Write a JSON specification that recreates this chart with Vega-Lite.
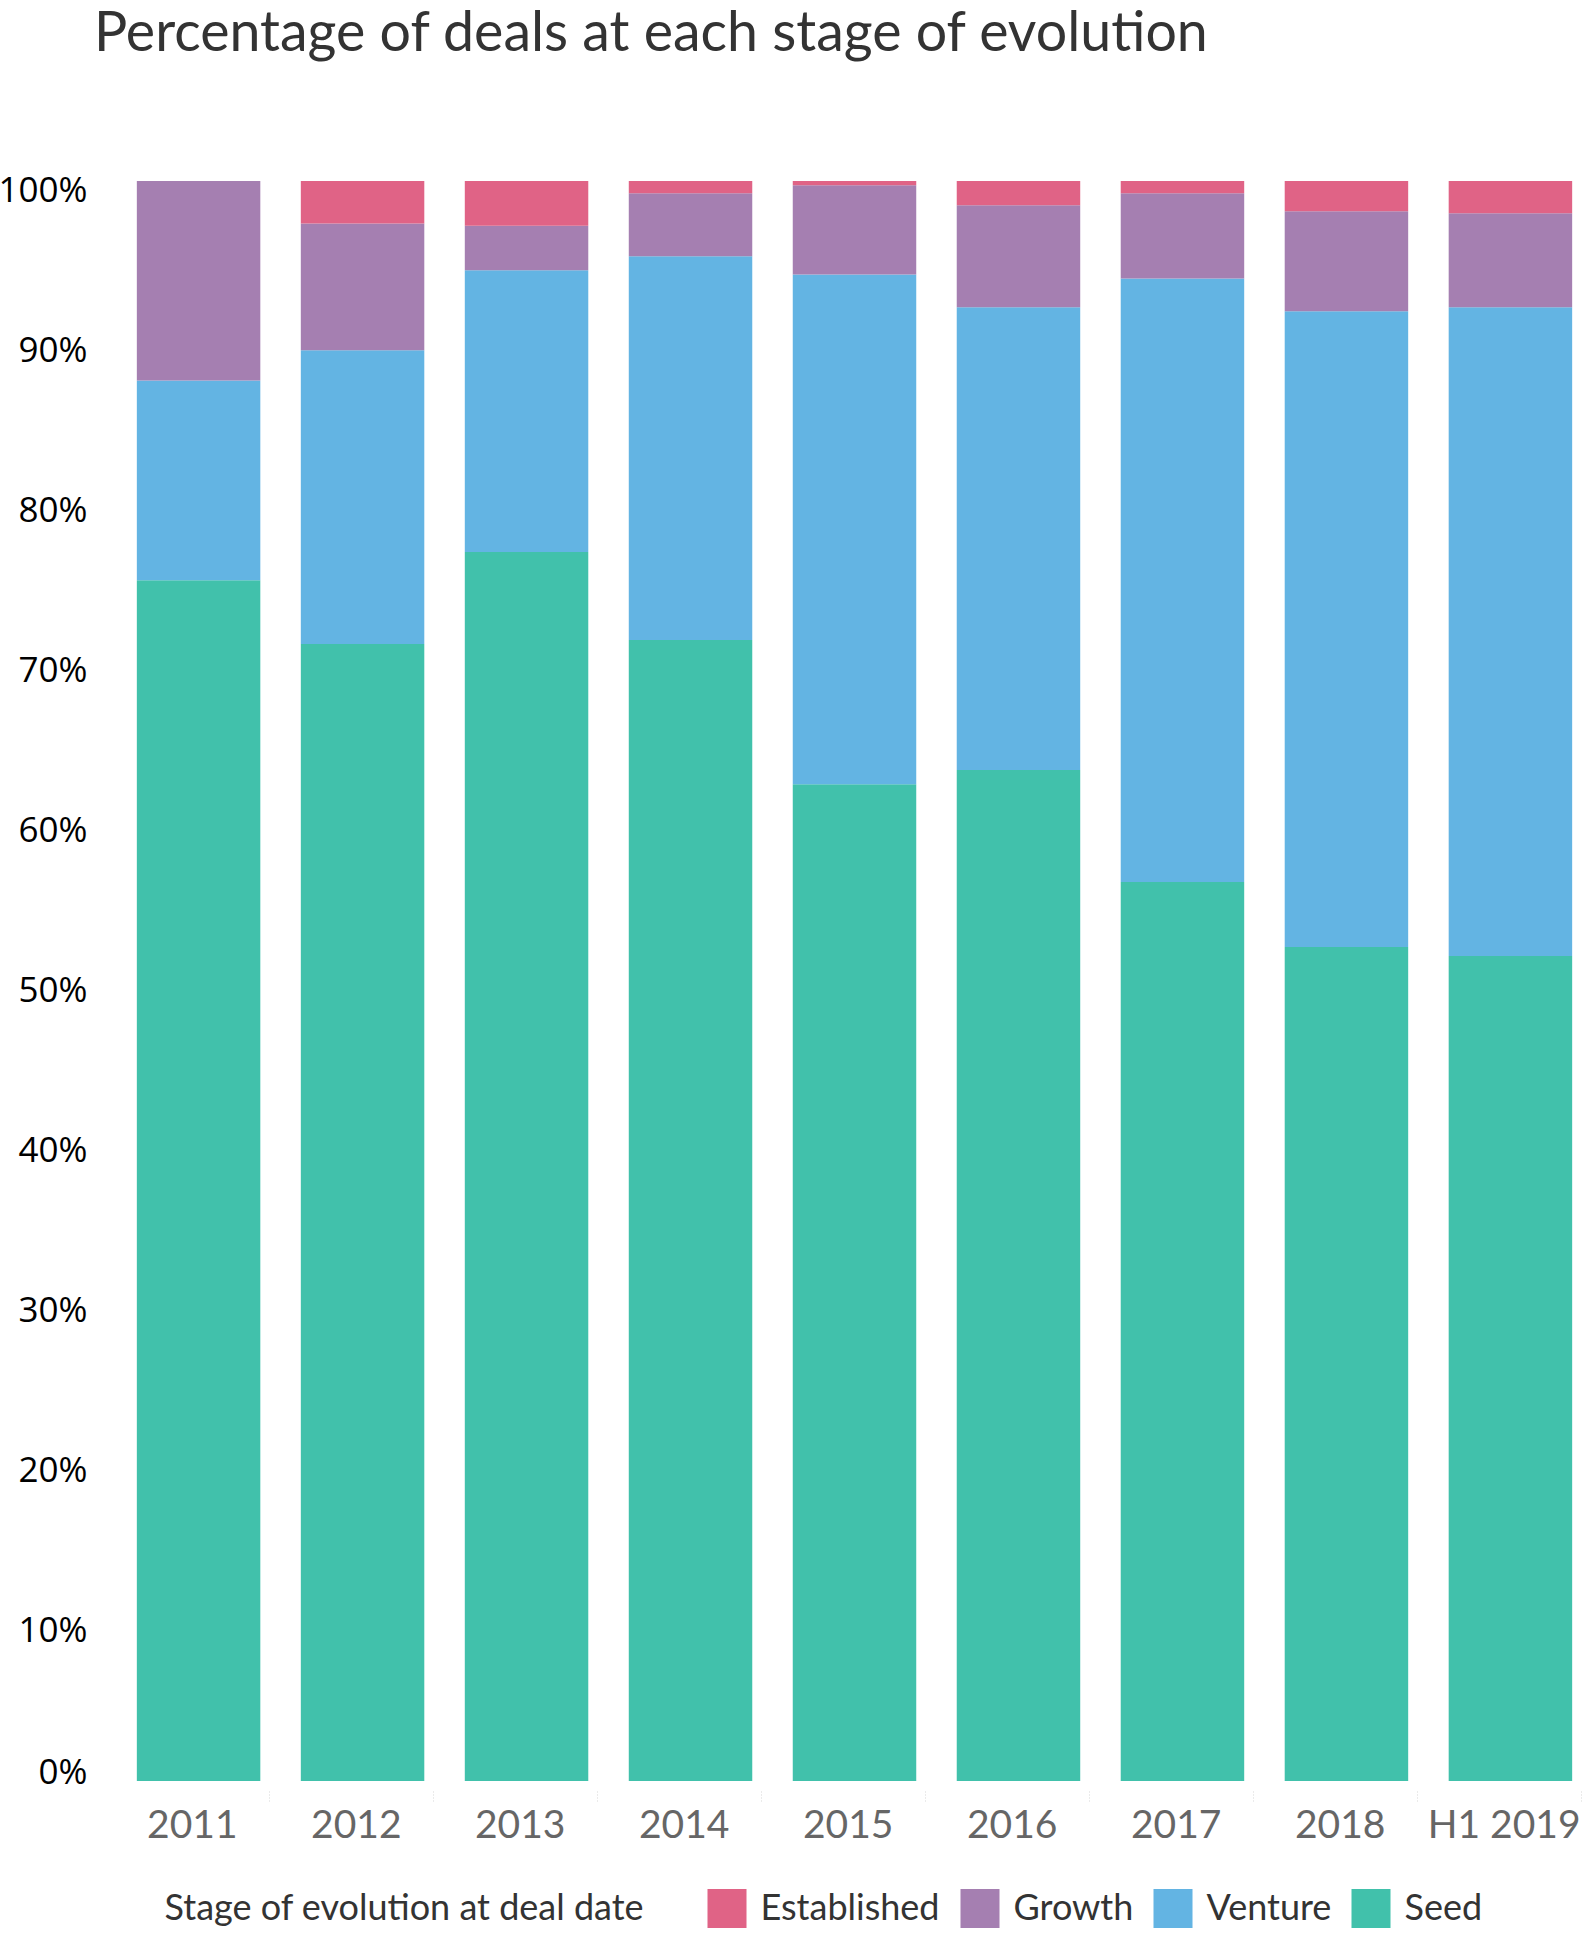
{
  "$schema": "https://vega.github.io/schema/vega-lite/v6.json",
  "description": "Percentage of deals at each stage of evolution",
  "autosize": {"type": "none"},
  "padding": {"left": 127, "top": 181, "right": 2, "bottom": 156},
  "width": 1455,
  "height": 1600,
  "background": "white",
  "title": {
    "text": "Percentage of deals at each stage of evolution",
    "anchor": "start",
    "frame": "group",
    "dx": -33,
    "offset": 67,
    "baseline": "alphabetic",
    "font": "Lato",
    "fontWeight": "normal",
    "fontSize": 55.5,
    "color": "#333333",
    "limit": 1500
  },
  "data": {
    "values": [
      {"year": "2011", "stage": "Seed", "rank": 1, "pct": 75.05},
      {"year": "2011", "stage": "Venture", "rank": 2, "pct": 12.48},
      {"year": "2011", "stage": "Growth", "rank": 3, "pct": 12.47},
      {"year": "2011", "stage": "Established", "rank": 4, "pct": 0},
      {"year": "2012", "stage": "Seed", "rank": 1, "pct": 71.07},
      {"year": "2012", "stage": "Venture", "rank": 2, "pct": 18.35},
      {"year": "2012", "stage": "Growth", "rank": 3, "pct": 7.92},
      {"year": "2012", "stage": "Established", "rank": 4, "pct": 2.66},
      {"year": "2013", "stage": "Seed", "rank": 1, "pct": 76.82},
      {"year": "2013", "stage": "Venture", "rank": 2, "pct": 17.6},
      {"year": "2013", "stage": "Growth", "rank": 3, "pct": 2.79},
      {"year": "2013", "stage": "Established", "rank": 4, "pct": 2.79},
      {"year": "2014", "stage": "Seed", "rank": 1, "pct": 71.32},
      {"year": "2014", "stage": "Venture", "rank": 2, "pct": 23.97},
      {"year": "2014", "stage": "Growth", "rank": 3, "pct": 3.94},
      {"year": "2014", "stage": "Established", "rank": 4, "pct": 0.77},
      {"year": "2015", "stage": "Seed", "rank": 1, "pct": 62.3},
      {"year": "2015", "stage": "Venture", "rank": 2, "pct": 31.85},
      {"year": "2015", "stage": "Growth", "rank": 3, "pct": 5.58},
      {"year": "2015", "stage": "Established", "rank": 4, "pct": 0.27},
      {"year": "2016", "stage": "Seed", "rank": 1, "pct": 63.18},
      {"year": "2016", "stage": "Venture", "rank": 2, "pct": 28.93},
      {"year": "2016", "stage": "Growth", "rank": 3, "pct": 6.37},
      {"year": "2016", "stage": "Established", "rank": 4, "pct": 1.52},
      {"year": "2017", "stage": "Seed", "rank": 1, "pct": 56.18},
      {"year": "2017", "stage": "Venture", "rank": 2, "pct": 37.72},
      {"year": "2017", "stage": "Growth", "rank": 3, "pct": 5.33},
      {"year": "2017", "stage": "Established", "rank": 4, "pct": 0.77},
      {"year": "2018", "stage": "Seed", "rank": 1, "pct": 52.12},
      {"year": "2018", "stage": "Venture", "rank": 2, "pct": 39.74},
      {"year": "2018", "stage": "Growth", "rank": 3, "pct": 6.25},
      {"year": "2018", "stage": "Established", "rank": 4, "pct": 1.89},
      {"year": "H1 2019", "stage": "Seed", "rank": 1, "pct": 51.57},
      {"year": "H1 2019", "stage": "Venture", "rank": 2, "pct": 40.54},
      {"year": "H1 2019", "stage": "Growth", "rank": 3, "pct": 5.87},
      {"year": "H1 2019", "stage": "Established", "rank": 4, "pct": 2.02}
    ]
  },
  "mark": {"type": "bar"},
  "encoding": {
    "x": {
      "field": "year",
      "type": "nominal",
      "sort": null,
      "scale": {"paddingInner": 0.247, "paddingOuter": 0.06},
      "axis": {
        "title": null,
        "domain": false,
        "labelAngle": 0,
        "labelFont": "Lato",
        "labelFontSize": 39,
        "labelColor": "#666666",
        "labelPadding": 3,
        "labelOffset": -15.5,
        "bandPosition": 1,
        "tickOffset": 8.7,
        "tickSize": 12,
        "tickColor": "#d6d6d6",
        "tickDash": [1, 2],
        "offset": 10
      }
    },
    "y": {
      "field": "pct",
      "type": "quantitative",
      "stack": "normalize",
      "scale": {"domain": [0, 1], "nice": false},
      "axis": {
        "title": null,
        "domain": false,
        "ticks": false,
        "tickSize": 0,
        "grid": false,
        "values": [0, 0.1, 0.2, 0.3, 0.4, 0.5, 0.6, 0.7, 0.8, 0.9, 1],
        "format": ".0%",
        "labelFont": "Open Sans",
        "labelFontSize": 35,
        "labelColor": "#000000",
        "labelAlign": "right",
        "labelPadding": 40,
        "labelBaseline": "alphabetic",
        "labelOffset": {"condition": {"test": "datum.value === 0", "value": 2}, "value": 20.5}
      }
    },
    "order": {"field": "rank", "type": "quantitative", "sort": "ascending"},
    "color": {
      "field": "stage",
      "type": "nominal",
      "sort": ["Established", "Growth", "Venture", "Seed"],
      "scale": {
        "domain": ["Established", "Growth", "Venture", "Seed"],
        "range": ["#e06386", "#a57fb1", "#63b4e3", "#41c1ab"]
      },
      "legend": {
        "title": "Stage of evolution at deal date",
        "orient": "none",
        "legendX": 37.5,
        "legendY": 1708,
        "direction": "horizontal",
        "titleOrient": "left",
        "titleFont": "Lato",
        "titleFontSize": 36,
        "titleFontWeight": "normal",
        "titleColor": "#333333",
        "titlePadding": 63,
        "titleLimit": 800,
        "labelFont": "Lato",
        "labelFontSize": 36,
        "labelColor": "#333333",
        "labelLimit": 400,
        "labelOffset": 14,
        "columnPadding": 20,
        "symbolType": "square",
        "symbolSize": 1521,
        "symbolStrokeWidth": 0,
        "symbolOpacity": 1,
        "padding": 0
      }
    }
  },
  "config": {
    "view": {"stroke": null}
  }
}
